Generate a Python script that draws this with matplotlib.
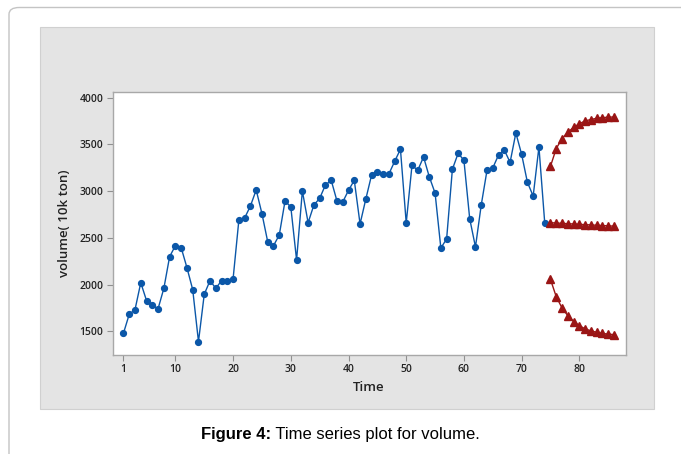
import matplotlib.pyplot as plt
from matplotlib.patches import FancyBboxPatch, Rectangle

# observed series, t = 1..74
volume = [1480, 1682, 1732, 2020, 1828, 1778, 1742, 1960, 2299, 2416,
          2395, 2181, 1946, 1390, 1896, 2042, 1960, 2042, 2042, 2063,
          2691, 2712, 2840, 3012, 2758, 2457, 2416, 2530, 2894, 2830,
          2263, 3001, 2662, 2851, 2922, 3065, 3115, 2894, 2883, 3008,
          3115, 2648, 2915, 3172, 3204, 3183, 3183, 3318, 3447, 2659,
          3275, 3222, 3365, 3152, 2979, 2391, 2487, 3233, 3404, 3329,
          2705, 2402, 2851, 3222, 3247, 3386, 3439, 3307, 3621, 3393,
          3094, 2947, 3471, 2662]
time = list(range(1, len(volume) + 1))

# forecasts, t = 75..86
fc_time = list(range(75, 87))
fc_upper = [3265, 3455, 3560, 3630, 3680, 3720, 3750, 3765, 3778, 3785, 3790, 3792]
fc_mid = [2662, 2658, 2655, 2651, 2648, 2644, 2641, 2638, 2634, 2631, 2628, 2625]
fc_lower = [2055, 1870, 1750, 1668, 1605, 1560, 1527, 1505, 1490, 1478, 1470, 1465]

xticks = [1, 10, 20, 30, 40, 50, 60, 70, 80]
yticks = [1500, 2000, 2500, 3000, 3500, 4000]

W, H = 681, 454
fig = plt.figure(figsize=(W / 100, H / 100), dpi=100)
fig.patch.set_facecolor('white')

# outer rounded frame
frame = FancyBboxPatch((9 / W, -0.1), 1.2, 1 - 7.5 / H + 0.1,
                       boxstyle='round,pad=0,rounding_size=0.015',
                       transform=fig.transFigure, fill=False,
                       edgecolor='#c4c4c4', linewidth=1.0, zorder=-2)
fig.patches.append(frame)

# grey panel
panel = Rectangle((40 / W, 1 - 409 / H), 614 / W, 382 / H,
                  transform=fig.transFigure, facecolor='#e4e4e4',
                  edgecolor='#d0d0d0', linewidth=0.8, zorder=-1)
fig.patches.append(panel)

ax = fig.add_axes([112.5 / W, 1 - 355 / H, 513 / W, 262.7 / H])
ax.set_zorder(2)
ax.set_facecolor('white')

blue = '#0b57a8'
red = '#9a1515'
ax.plot(time, volume, color=blue, lw=1.0, marker='o', ms=4.2, mec=blue, mfc=blue)
for s in (fc_upper, fc_mid, fc_lower):
    ax.plot(fc_time, s, color=red, lw=1.0, marker='^', ms=6, mec=red, mfc=red)

ax.set_xlim(-0.9, 88)
ax.set_ylim(1247, 4056)
ax.set_xticks(xticks)
ax.set_yticks(yticks)

for sp in ax.spines.values():
    sp.set_color('#a8a8a8')
    sp.set_linewidth(1.0)
ax.tick_params(direction='out', length=4, width=0.8, color='#909090',
               labelsize=7.5, labelcolor='#222222', pad=2.5)
for lab in ax.get_xticklabels() + ax.get_yticklabels():
    lab.set_family('Open Sans')
    lab.set_weight('semibold')

ax.set_xlabel('Time', family='Open Sans', weight='semibold', fontsize=9.5,
              color='#222222', labelpad=4)
ax.set_ylabel('volume( 10k ton)', family='Open Sans', weight='semibold',
              fontsize=9.5, color='#222222', labelpad=6)

# caption with bold prefix
fig.canvas.draw()
r = fig.canvas.get_renderer()
t1 = fig.text(0, 0, 'Figure 4:', family='Liberation Sans', weight='bold', fontsize=12)
t2 = fig.text(0, 0, ' Time series plot for volume.', family='Liberation Sans', fontsize=12)
w1 = t1.get_window_extent(r).width
w2 = t2.get_window_extent(r).width
x0 = (W - w1 - w2) / 2
yc = 1 - 435 / H
t1.set_position((x0 / W, yc))
t1.set_va('center')
t2.set_position(((x0 + w1) / W, yc))
t2.set_va('center')

fig.savefig('out.png', dpi=100)
